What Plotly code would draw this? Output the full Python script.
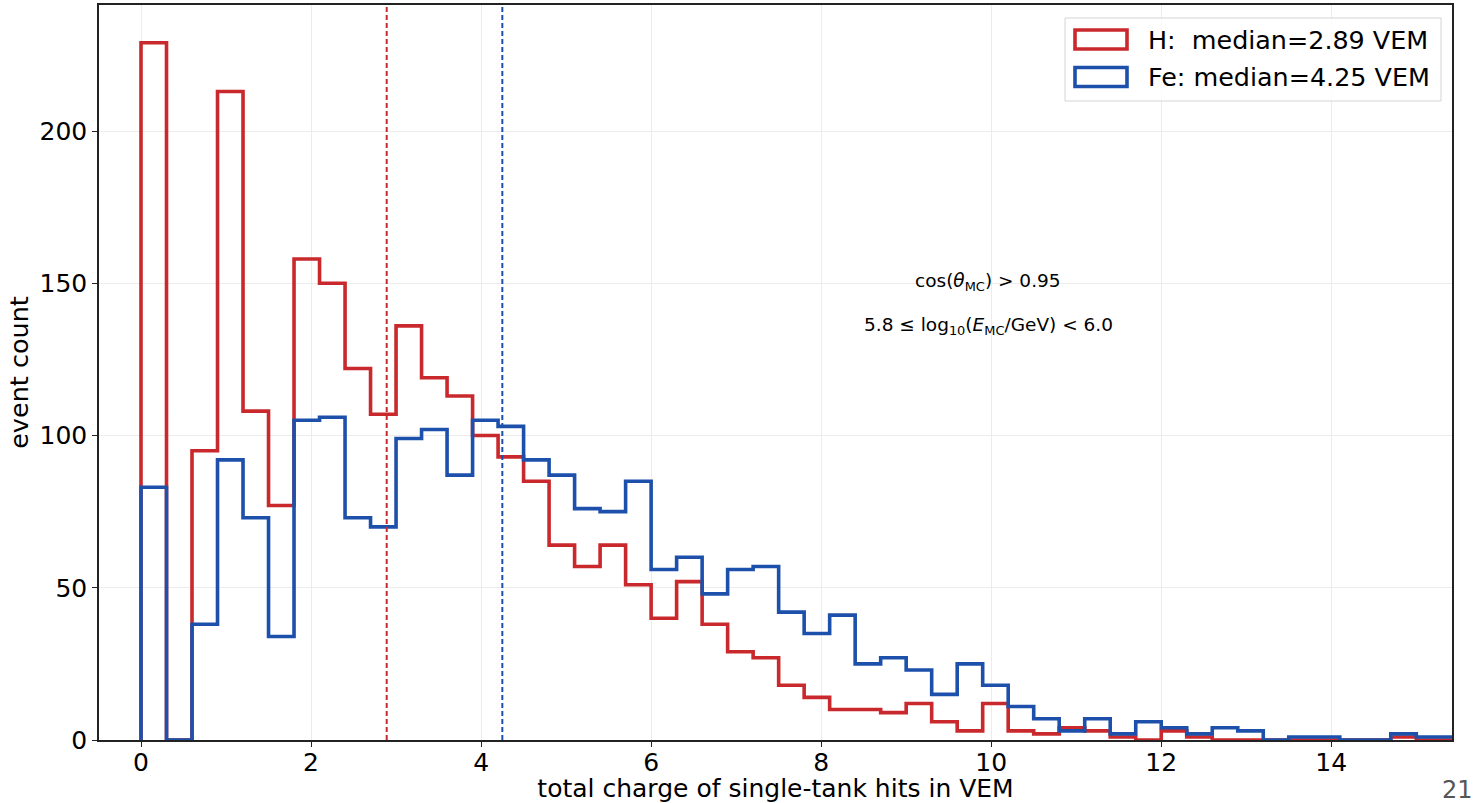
import numpy as np
import plotly.graph_objects as go

# ---- data ----
bin_start = 0.0
bin_width = 0.3
counts_H = [229, 0, 95, 213, 108, 77, 158, 150, 122, 107,
            136, 119, 113, 100, 93, 85, 64, 57, 64, 51,
            40, 52, 38, 29, 27, 18, 14, 10, 10, 9,
            12, 6, 3, 12, 3, 2, 4, 3, 1, 0,
            3, 1, 0, 0, 0, 0, 0, 0, 0, 1,
            0, 0]
counts_Fe = [83, 0, 38, 92, 73, 34, 105, 106, 73, 70,
             99, 102, 87, 105, 103, 92, 87, 76, 75, 85,
             56, 60, 48, 56, 57, 42, 35, 41, 25, 27,
             23, 15, 25, 18, 11, 7, 3, 7, 2, 6,
             4, 2, 4, 3, 0, 1, 1, 0, 0, 2,
             1, 1]
median_H = 2.89
median_Fe = 4.25
label_H = "H:  median=2.89 VEM"
label_Fe = "Fe: median=4.25 VEM"
x_ticks = [0, 2, 4, 6, 8, 10, 12, 14]
y_ticks = [0, 50, 100, 150, 200]

RED = "#c9282d"
BLUE = "#1d50aa"
FONT = "DejaVu Sans"

edges = bin_start + bin_width * np.arange(len(counts_H) + 1)


def step_xy(counts):
    xs = [edges[0]] + list(edges[:-1]) + [edges[-1], edges[-1]]
    ys = [0] + list(counts) + [counts[-1], 0]
    return xs, ys


fig = go.Figure()
for counts, color, name in [(counts_H, RED, label_H), (counts_Fe, BLUE, label_Fe)]:
    xs, ys = step_xy(counts)
    fig.add_trace(go.Scatter(x=xs, y=ys, mode="lines", line=dict(color=color, width=3.6, shape="hv"),
                             name=name, showlegend=False, hoverinfo="skip"))

# median lines
for m, color in [(median_H, RED), (median_Fe, BLUE)]:
    fig.add_shape(type="line", xref="x", yref="paper", x0=m, x1=m, y0=0, y1=1,
                  line=dict(color=color, width=2, dash="5px,3px"), layer="above")

# manual legend (matplotlib-style)
def px2x(px):
    return (px - 99) / (1452 - 99)


def py2y(py):
    return (740 - py) / (740 - 5)


fig.add_shape(type="rect", xref="paper", yref="paper", x0=px2x(1065), x1=px2x(1441), y0=py2y(101), y1=py2y(18),
              line=dict(color="#d4d4d4", width=1), fillcolor="rgba(255,255,255,0.85)", layer="above")
for (py_c, color, text) in [(39.5, RED, label_H), (77, BLUE, label_Fe)]:
    fig.add_shape(type="rect", xref="paper", yref="paper", x0=px2x(1075), x1=px2x(1127),
                  y0=py2y(py_c + 9.5), y1=py2y(py_c - 9.5), line=dict(color=color, width=3.6),
                  fillcolor="rgba(0,0,0,0)", layer="above")
    fig.add_annotation(xref="paper", yref="paper", x=px2x(1146), y=py2y(py_c), text=text, showarrow=False,
                       xanchor="left", yanchor="middle", font=dict(family=FONT, size=25.4, color="black"))

# cut annotations
fig.add_annotation(xref="paper", yref="paper", x=px2x(988), y=py2y(282),
                   text="cos(<i>θ</i><sub>MC</sub>) &gt; 0.95", showarrow=False,
                   font=dict(family=FONT, size=18.5, color="black"))
fig.add_annotation(xref="paper", yref="paper", x=px2x(988), y=py2y(326),
                   text="5.8 ≤ log<sub>10</sub>(<i>E</i><sub>MC</sub>/GeV) &lt; 6.0", showarrow=False,
                   font=dict(family=FONT, size=18.5, color="black"))

# page number
fig.add_annotation(xref="paper", yref="paper", x=px2x(1475), y=py2y(790), text="21", showarrow=False,
                   xanchor="right", yanchor="middle", font=dict(family=FONT, size=24, color="#555555"))

axis_common = dict(showline=True, linecolor="#222222", linewidth=1.5, mirror=True,
                   ticks="outside", ticklen=5, tickwidth=1.2, tickcolor="#222222",
                   showgrid=True, gridcolor="#ececec", gridwidth=1, zeroline=False,
                   automargin=False,
                   tickfont=dict(family=FONT, size=25, color="black"))

fig.update_xaxes(range=[-0.494, 15.42], tickvals=x_ticks, ticktext=[str(v) for v in x_ticks],
                 ticklabelstandoff=-6,
                 title=dict(text="total charge of single-tank hits in VEM",
                            font=dict(family=FONT, size=25, color="black"), standoff=4),
                 **axis_common)
fig.update_yaxes(range=[0, 241.4], tickvals=y_ticks, ticktext=[str(v) for v in y_ticks],
                 title=dict(text="event count", font=dict(family=FONT, size=25.5, color="black"), standoff=4),
                 **axis_common)

fig.update_layout(width=1476, height=803, margin=dict(l=99, r=24, t=5, b=63),
                  plot_bgcolor="white", paper_bgcolor="white", showlegend=False,
                  font=dict(family=FONT))

fig.write_html("out.html")
